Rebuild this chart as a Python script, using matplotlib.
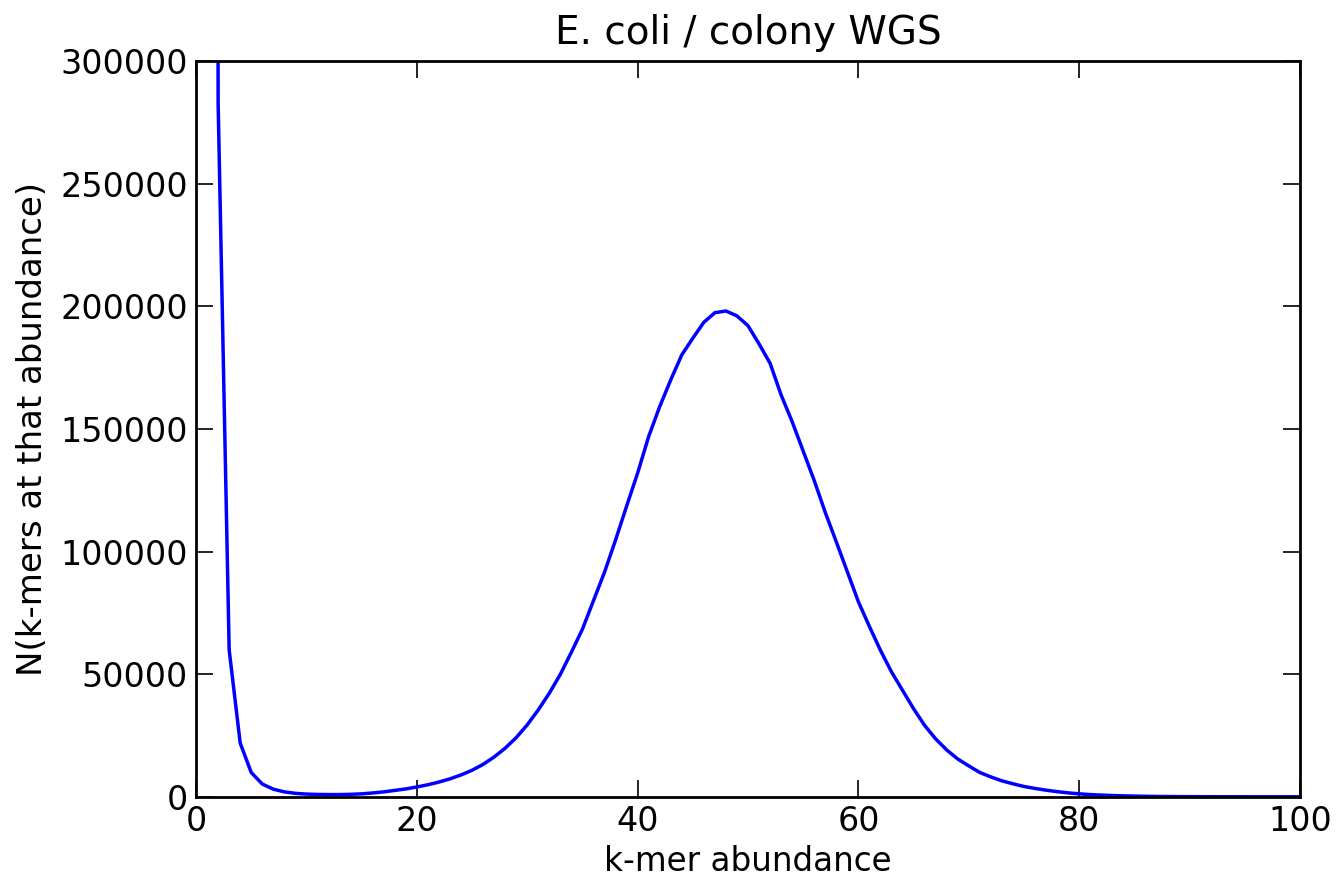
import matplotlib
matplotlib.use("Agg")
import matplotlib.pyplot as plt
import numpy as np

# k-mer abundance histogram (abundance 1..100)
abundance = np.arange(1, 101)
counts = [
    4800000, 283000, 60000, 22000, 10000, 5300, 3200, 2100, 1500, 1200,
    1050, 1000, 1000, 1100, 1300, 1650, 2100, 2700, 3300, 4100,
    5000, 6100, 7400, 9000, 10900, 13300, 16300, 19900, 24200, 29400,
    35500, 42300, 50000, 59000, 68400, 80000, 91600, 104700, 118500, 132000,
    146900, 159100, 170000, 180200, 187000, 193500, 197400, 198100, 196100, 192100,
    184700, 176800, 163900, 153000, 141000, 129000, 116000, 104000, 91800, 79600,
    69500, 59800, 51000, 43500, 36000, 29200, 23700, 19200, 15500, 12700,
    10000, 8200, 6600, 5400, 4300, 3500, 2800, 2200, 1700, 1300,
    1000, 800, 600, 480, 380, 300, 240, 200, 170, 150,
    135, 125, 118, 112, 108, 105, 102, 100, 98, 96,
]

x_ticks = [0, 20, 40, 60, 80, 100]
y_ticks = [0, 50000, 100000, 150000, 200000, 250000, 300000]

fs = 24

fig = plt.figure(figsize=(13.4, 8.85), dpi=100, facecolor='white')
ax = fig.add_axes([0.1463, 0.0994, 0.8238, 0.8317])

ax.plot(abundance, counts, color='b', linewidth=2.5)

ax.set_xlim(0, 100)
ax.set_ylim(0, 300000)
ax.set_xticks(x_ticks)
ax.set_yticks(y_ticks)
ax.set_xticklabels([str(t) for t in x_ticks])
ax.set_yticklabels([str(t) for t in y_ticks])

ax.tick_params(direction='in', top=True, right=True, length=12, width=1.2,
               labelsize=fs, pad=6)
for sp in ax.spines.values():
    sp.set_linewidth(2)

ax.set_xlabel("k-mer abundance", fontsize=23.5, labelpad=5)
ax.set_ylabel("N(k-mers at that abundance)", fontsize=24.5, labelpad=8)
ax.set_title("E. coli / colony WGS", fontsize=28, pad=12)

fig.savefig("out.png", dpi=100, facecolor='white')
